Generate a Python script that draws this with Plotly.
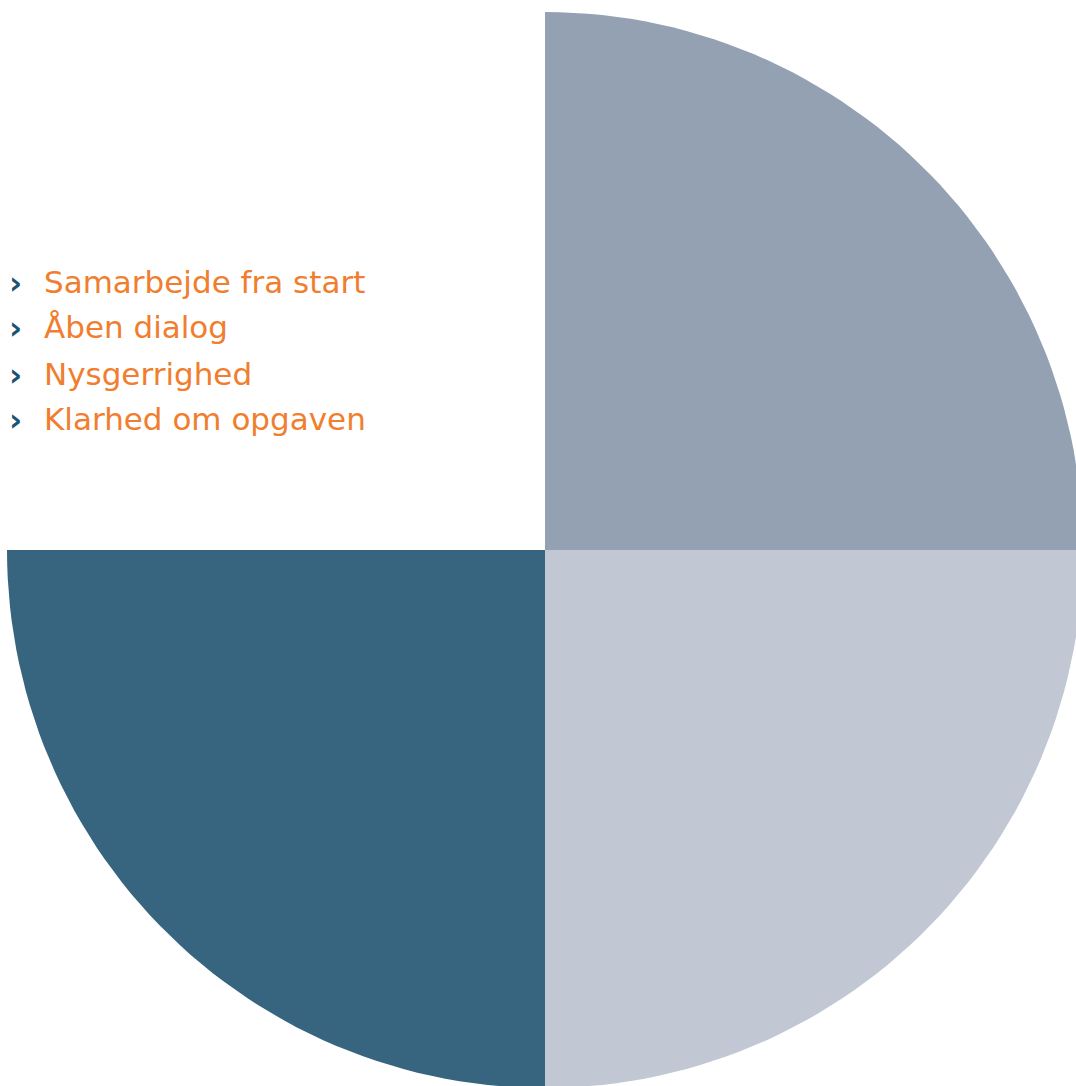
import numpy as np
import plotly.graph_objects as go

# ---- data ----
segments = ["Øverst højre", "Nederst højre", "Nederst venstre", "Øverst venstre"]
shares = [1, 1, 1, 1]
colors = ["#93A1B3", "#C1C7D3", "#37647F", "rgba(0,0,0,0)"]
items = ["Samarbejde fra start", "Åben dialog", "Nysgerrighed", "Klarhed om opgaven"]

W, H = 1076, 1086
CX, CY, R = 545, 550, 538  # circle centre / radius in pixels

fig = go.Figure()

total = sum(shares)
start = 90.0  # degrees, clockwise from 12 o'clock
for name, val, col in zip(segments, shares, colors):
    span = 360.0 * val / total
    ang = np.radians(np.linspace(start, start - span, 60))
    xs = np.concatenate([[0], np.cos(ang), [0]])
    ys = np.concatenate([[0], np.sin(ang), [0]])
    start -= span
    if col == "rgba(0,0,0,0)":
        continue
    fig.add_trace(go.Scatter(x=xs, y=ys, fill="toself", fillcolor=col,
                             mode="lines", line=dict(width=0, color=col),
                             name=name, hoverinfo="name", showlegend=False))

# axes mapped so that the unit circle lands at the pixel centre/radius
x0 = (0 - CX) / R
x1 = (W - CX) / R
y1 = (CY - 0) / R
y0 = (CY - H) / R

fig.update_xaxes(range=[x0, x1], visible=False, fixedrange=True)
fig.update_yaxes(range=[y0, y1], visible=False, fixedrange=True)

line_y = [281.5, 326.5, 373.5, 418.5]
for txt, py in zip(items, line_y):
    fig.add_annotation(xref="paper", yref="paper", x=7 / W, y=1 - (py + 1.5) / H,
                       text="›", showarrow=False, xanchor="left", yanchor="middle",
                       font=dict(family="DejaVu Sans", size=32, weight="bold",
                                 color="#1B5270"))
    fig.add_annotation(xref="paper", yref="paper", x=42 / W, y=1 - py / H,
                       text=txt, showarrow=False, xanchor="left", yanchor="middle",
                       font=dict(family="DejaVu Sans", size=31, color="#F07E2E"))

fig.update_layout(width=W, height=H, margin=dict(l=0, r=0, t=0, b=0),
                  paper_bgcolor="white", plot_bgcolor="white")

fig.write_html("out.html", config={"displayModeBar": False},
               post_script="document.body.style.margin='0px';")
